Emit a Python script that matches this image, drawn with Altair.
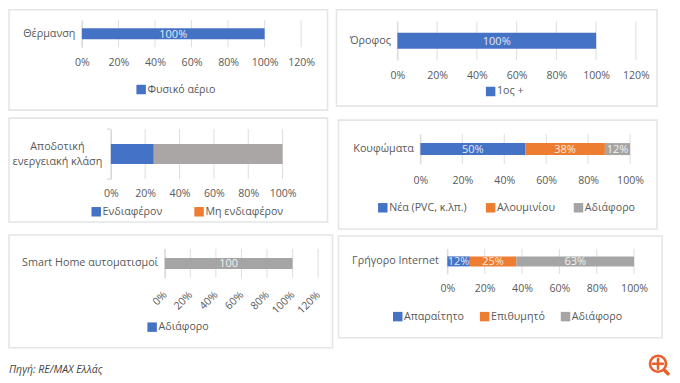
import altair as alt

FONT = "Open Sans"
BLUE, ORANGE, GRAY = "#4472C4", "#ED7D31", "#A5A5A5"
TXT, GRID, FRAME = "#595959", "#dedede", "#e4e6e6"

# data
cats = ["Θέρμανση", "Όροφος", "Αποδοτική|ενεργειακή κλάση", "Κουφώματα", "Smart Home αυτοματισμοί", "Γρήγορο Internet"]
series_1 = ["Φυσικό αέριο"]
values_1 = [1.0]
labels_1 = ["100%"]
series_2 = ["1ος +"]
values_2 = [1.0]
labels_2 = ["100%"]
series_3 = ["Ενδιαφέρον", "Άλλο", "Μη ενδιαφέρον"]
values_3 = [0.25, 0.75, 0.0]
labels_3 = ["", "", ""]
series_4 = ["Νέα (PVC, κ.λπ.)", "Αλουμινίου", "Αδιάφορο"]
values_4 = [0.50, 0.38, 0.12]
labels_4 = ["50%", "38%", "12%"]
series_5 = ["Αδιάφορο", "Άλλο"]
values_5 = [0.0, 1.0]
labels_5 = ["", "100"]
series_6 = ["Απαραίτητο", "Επιθυμητό", "Αδιάφορο"]
values_6 = [0.12, 0.25, 0.63]
labels_6 = ["12%", "25%", "63%"]
ticks_120 = [0, .2, .4, .6, .8, 1.0, 1.2]
ticks_100 = [0, .2, .4, .6, .8, 1.0]
caption = ["Πηγή: RE/MAX Ελλάς"]


def panel(cat, series, values, labels, colors, legend_vals, ticks, origin, size, frame,
          x0, x100, bar, grid, label_right, axis_y, leg_xy, col_pad, angle=0, center_label=None,
          extra=None):
    ox, oy = origin
    W, H = size
    rx0, rx100 = x0 - ox, x100 - ox
    rend = rx0 + (rx100 - rx0) * ticks[-1]
    g0, g1 = grid[0] - oy, grid[1] - oy
    frac = (bar[1] - bar[0]) / (grid[1] - grid[0])
    p = (1 - frac) / (1 + frac)
    xs = alt.Scale(domain=[0, ticks[-1]], range=[rx0, rend], nice=False, zero=False)
    ys = alt.Scale(domain=[cat], range=[g0, g1], paddingInner=p, paddingOuter=p)
    rows = [dict(cat=cat, s=s, v=v, l=l, o=i) for i, (s, v, l) in enumerate(zip(series, values, labels))]
    data = alt.Data(values=rows)

    ax_kw = dict(values=ticks, format=".0%", title=None, grid=False, domain=False, ticks=False,
                 labelPadding=0, labelBaseline="middle", labelFont=FONT, labelFontSize=10.6,
                 labelColor=TXT, offset=-(H - (axis_y - oy)), labelOverlap=False, labelFlush=False, labelBound=False)
    if angle:
        ax_kw.update(labelAngle=angle, labelAlign="right")
    else:
        ax_kw.update(labelAngle=0, labelAlign="center")
    y_kw = dict(title=None, ticks=False, domain=True, domainColor="#d0d0d0", grid=False,
                labelFont=FONT, labelFontSize=10.8, labelColor=TXT, labelLimit=300,
                offset=-rx0, labelBound=False, labelOverlap=False,
                labelExpr="split(datum.label, '|')")
    if center_label:
        y_kw.update(labelAlign="center", labelPadding=x0 - center_label, labelLineHeight=14.5, labelOffset=-7)
    else:
        y_kw.update(labelAlign="right", labelPadding=x0 - label_right)
    xaxis = alt.Axis(**ax_kw)
    yaxis = alt.Axis(**y_kw)

    fr = alt.Chart(alt.Data(values=[{"a": 1}])).mark_rect(filled=False, stroke=FRAME, strokeWidth=1.6).encode(
        x=alt.value(frame[0] - ox), x2=alt.value(frame[2] - ox),
        y=alt.value(frame[1] - oy), y2=alt.value(frame[3] - oy))
    gr = alt.Chart(alt.Data(values=[{"t": t} for t in ticks])).mark_rule(color=GRID, strokeWidth=1).encode(
        x=alt.X("t:Q", scale=xs, axis=xaxis), y=alt.value(g0), y2=alt.value(g1))

    base = alt.Chart(data).transform_stack(
        stack="v", groupby=["cat"], as_=["start", "end"], sort=[alt.SortField("o", order="ascending")]
    ).transform_calculate(mid="(datum.start + datum.end) / 2")

    legend = alt.Legend(title=None, orient="none", legendX=leg_xy[0] - ox, legendY=leg_xy[1] - oy,
                        direction="horizontal", columns=len(legend_vals), values=legend_vals,
                        symbolType="square", symbolSize=90, symbolStrokeWidth=0, symbolOpacity=1,
                        labelFont=FONT, labelFontSize=10.7, labelColor=TXT, labelOffset=1,
                        columnPadding=col_pad, padding=0)
    bars = base.mark_bar().encode(
        x=alt.X("start:Q", scale=xs, axis=xaxis), x2="end:Q",
        y=alt.Y("cat:N", scale=ys, axis=yaxis),
        color=alt.Color("s:N", scale=alt.Scale(domain=series, range=colors), legend=legend))
    txt = base.transform_filter("datum.l != ''").mark_text(
        color="white", opacity=0.85, font=FONT, fontSize=11, dy=1).encode(
        x=alt.X("mid:Q", scale=xs, axis=xaxis), y=alt.Y("cat:N", scale=ys, axis=yaxis), text="l:N")
    layers = [fr, gr, bars, txt]
    if extra:
        layers += extra(ox, oy)
    return alt.layer(*layers).properties(width=W, height=H)


def bracket(ox, oy):
    out = []
    for y in (128, 178):
        out.append(alt.Chart(alt.Data(values=[{"a": 1}])).mark_rule(color="#d0d0d0").encode(
            x=alt.value(107 - ox), x2=alt.value(111 - ox), y=alt.value(y - oy)))
    return out


def cap(ox, oy):
    return [alt.Chart(alt.Data(values=[{"c": c} for c in caption])).mark_text(
        align="left", font=FONT, fontSize=10.5, fontStyle="italic", color="#444444").encode(
        x=alt.value(9 - ox), y=alt.value(369 - oy), text="c:N")]


def icon(ox, oy):
    C = "#E8602C"
    one = alt.Data(values=[{"a": 1}])
    out = [alt.Chart(one).mark_point(shape="circle", size=260, filled=False, color=C, strokeWidth=2.6, opacity=1).encode(
        x=alt.value(659 - ox), y=alt.value(363 - oy))]
    for a, b, c, d, w in [(654, 363, 664, 363, 2.5), (659, 358, 659, 368, 2.5), (666, 370, 669, 373, 3.5)]:
        out.append(alt.Chart(one).mark_rule(color=C, strokeWidth=w, strokeCap="round").encode(
            x=alt.value(a - ox), x2=alt.value(c - ox), y=alt.value(b - oy), y2=alt.value(d - oy)))
    return out


LW, RW = 328, 334
p1 = panel(cats[0], series_1, values_1, labels_1, [BLUE], series_1, ticks_120, (8, 8), (LW, 104), (9, 8.5, 328, 109),
           82, 265, (27, 38), (19, 46), 75, 61, (136, 83), 10)
p3 = panel(cats[2], series_3, values_3, labels_3, [BLUE, "#AAA6A6", ORANGE], ["Ενδιαφέρον", "Μη ενδιαφέρον"], ticks_100,
           (8, 112), (LW, 116), (9, 117, 328, 221), 111, 283, (143, 163), (128, 178), 103, 193, (91, 205), 31,
           center_label=57, extra=bracket)
p5 = panel(cats[4], series_5, values_5, labels_5, [BLUE, GRAY], ["Αδιάφορο"], ticks_120,
           (8, 228), (LW, 147), (9, 234, 333, 347), 165, 293, (257, 268), (248, 277), 158, 292, (147, 321), 10,
           angle=-45, extra=cap)
p2 = panel(cats[1], series_2, values_2, labels_2, [BLUE], series_2, ticks_120, (336, 8), (RW, 104), (337, 8.5, 658, 105),
           398, 597, (32, 48), (20, 59), 391, 74, (486, 85), 10)
p4 = panel(cats[3], series_4, values_4, labels_4, [BLUE, ORANGE, GRAY], series_4, ticks_100,
           (336, 112), (RW, 120), (339, 119, 658, 228), 421, 631, (142, 154), (133, 163), 414, 179, (378, 201), 18)
p6 = panel(cats[5], series_6, values_6, labels_6, [BLUE, ORANGE, GRAY], series_6, ticks_100,
           (336, 232), (RW, 143), (339, 235, 663, 337), 448, 635, (256, 266), (248, 273), 439, 288, (393, 310), 15,
           extra=icon)

res = dict(color="independent", x="independent", y="independent")
left = alt.vconcat(p1, p3, p5, spacing=0).resolve_scale(**res)
right = alt.vconcat(p2, p4, p6, spacing=0).resolve_scale(**res)
chart = alt.hconcat(left, right, spacing=0).resolve_scale(**res).configure_view(
    stroke=None).properties(padding=0, background="white")
chart.save("out.html", embed_options={"renderer": "svg", "actions": False})
